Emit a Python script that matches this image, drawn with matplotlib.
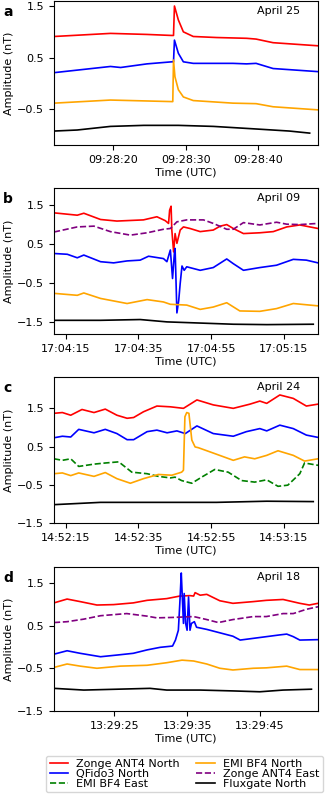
import matplotlib
matplotlib.use("Agg")
import matplotlib.pyplot as plt
from matplotlib.lines import Line2D

# time in seconds after the full minute, amplitude in nT

# panel a - April 25, 09:28
a_red_t = [11.8, 19.6, 24.6, 28.07, 28.3, 28.43, 28.97, 29.66, 31.03, 34.26, 38.4, 39.7, 42.05, 48.25]
a_red_v = [0.91, 0.97, 0.95, 0.93, 0.93, 1.50, 1.23, 1.00, 0.91, 0.89, 0.875, 0.86, 0.79, 0.73]
a_blue_t = [11.8, 19.6, 21.0, 24.63, 28.07, 28.3, 28.43, 28.97, 29.66, 31.03, 36.5, 38.4, 39.7, 42.05, 48.25]
a_blue_v = [0.21, 0.33, 0.31, 0.38, 0.42, 0.42, 0.84, 0.585, 0.42, 0.39, 0.39, 0.38, 0.39, 0.29, 0.23]
a_orange_t = [11.8, 19.6, 28.07, 28.2, 28.3, 28.5, 28.97, 29.66, 31.03, 36.5, 39.7, 42.05, 48.25]
a_orange_v = [-0.38, -0.32, -0.35, -0.35, 0.455, 0.13, -0.12, -0.26, -0.33, -0.38, -0.39, -0.45, -0.51]
a_black_t = [11.8, 15.0, 19.6, 24.2, 28.97, 33.8, 39.7, 44.3, 47.1]
a_black_v = [-0.92, -0.90, -0.83, -0.81, -0.81, -0.83, -0.88, -0.92, -0.96]

# panel b - April 09, 17:04
b_red_t = [11.8, 18.2, 20.0, 24.6, 29.1, 36.4, 40.1, 42.4, 43.3, 43.6, 44.0, 44.2, 44.7, 45.1, 45.6,
           46.5, 47.4, 49.2, 52.0, 55.6, 57.5, 59.3, 61.1, 63.9, 68.4, 72.1, 75.8, 79.4, 84.4]
b_red_v = [1.30, 1.24, 1.29, 1.13, 1.09, 1.12, 1.20, 1.10, 1.03, 1.37, 1.47, 0.86, 0.30, 0.77, 0.52,
           0.86, 0.94, 0.90, 0.82, 0.86, 0.96, 1.00, 0.90, 0.77, 0.79, 0.82, 0.94, 0.99, 0.90]
b_purple_t = [11.8, 18.2, 22.8, 27.3, 32.8, 37.4, 41.9, 43.8, 45.6, 48.3, 52.9, 55.6, 59.3, 61.1,
              63.9, 68.4, 73.0, 75.8, 79.4, 84.4]
b_purple_v = [0.81, 0.94, 0.96, 0.82, 0.73, 0.79, 0.88, 0.90, 1.07, 1.12, 1.12, 1.03, 0.88, 0.88,
              1.05, 0.99, 1.06, 1.01, 1.00, 1.03]
b_blue_t = [11.8, 15.46, 18.2, 20.0, 24.6, 28.2, 31.9, 35.5, 37.8, 41.9, 42.85, 43.8, 44.4, 44.9,
            45.1, 45.6, 46.1, 46.5, 47.0, 47.6, 48.3, 52.0, 55.6, 59.3, 61.1, 63.9, 68.4, 73.0,
            77.6, 81.2, 84.4]
b_blue_v = [0.26, 0.24, 0.15, 0.22, 0.05, 0.02, 0.07, 0.09, 0.19, 0.13, 0.05, 0.35, -0.38, 0.26,
            0.39, -1.26, -0.94, -0.51, -0.06, -0.17, -0.08, -0.17, -0.10, 0.12, 0.00, -0.17, -0.10,
            -0.04, 0.11, 0.09, 0.02]
b_orange_t = [11.8, 18.2, 20.0, 24.6, 31.9, 37.4, 41.9, 43.8, 48.3, 52.0, 55.6, 59.3, 62.9, 68.4,
              73.0, 77.6, 84.4]
b_orange_v = [-0.76, -0.81, -0.75, -0.89, -1.02, -0.92, -0.98, -1.04, -1.06, -1.17, -1.11, -1.00,
              -1.21, -1.22, -1.15, -1.02, -1.08]
b_black_t = [11.8, 24.6, 35.5, 42.85, 52.0, 61.1, 70.3, 83.1]
b_black_v = [-1.45, -1.45, -1.43, -1.49, -1.52, -1.55, -1.56, -1.55]

# panel c - April 24, 14:52
c_red_t = [11.8, 14.1, 16.4, 19.5, 22.8, 25.9, 29.1, 31.9, 33.7, 36.4, 40.1, 43.8, 47.4, 51.1,
           55.6, 61.1, 65.7, 68.4, 70.3, 73.9, 77.6, 81.2, 84.4]
c_red_v = [1.37, 1.39, 1.32, 1.47, 1.39, 1.48, 1.32, 1.24, 1.26, 1.41, 1.56, 1.54, 1.50, 1.72,
           1.59, 1.50, 1.61, 1.69, 1.63, 1.85, 1.76, 1.56, 1.61]
c_blue_t = [11.8, 14.1, 16.4, 18.6, 22.8, 25.9, 29.1, 31.9, 33.7, 37.4, 40.1, 42.9, 45.6, 47.9,
            51.1, 55.6, 61.1, 64.7, 68.4, 70.3, 73.9, 77.6, 81.2, 84.4]
c_blue_v = [0.73, 0.77, 0.75, 0.95, 0.86, 0.95, 0.84, 0.68, 0.68, 0.89, 0.93, 0.86, 0.91, 0.84,
            1.04, 0.84, 0.77, 0.89, 0.97, 0.91, 1.06, 0.97, 0.80, 0.74]
c_green_t = [11.8, 14.1, 16.4, 18.6, 22.8, 25.9, 29.6, 33.2, 37.4, 40.5, 43.8, 45.1, 46.9, 49.7,
             52.4, 56.0, 59.7, 63.4, 67.0, 70.3, 73.4, 76.1, 79.4, 80.7, 84.4]
c_green_v = [0.18, 0.14, 0.18, -0.02, 0.04, 0.07, 0.10, -0.17, -0.21, -0.28, -0.32, -0.30, -0.39,
             -0.46, -0.30, -0.10, -0.17, -0.39, -0.43, -0.37, -0.54, -0.51, -0.21, 0.07, 0.01]
c_orange_t = [11.8, 14.1, 16.4, 18.6, 22.8, 25.9, 29.1, 32.8, 36.4, 40.5, 44.2, 46.9, 47.4, 47.8,
              48.3, 48.9, 49.7, 50.6, 51.5, 55.6, 61.1, 64.2, 67.0, 70.3, 73.4, 77.6, 80.7, 84.4]
c_orange_v = [-0.21, -0.19, -0.26, -0.19, -0.28, -0.18, -0.34, -0.46, -0.34, -0.23, -0.25, -0.17,
              -0.12, 1.28, 1.39, 1.37, 0.67, 0.49, 0.47, 0.33, 0.14, 0.23, 0.18, 0.27, 0.39, 0.27,
              0.12, 0.18]
c_black_t = [11.8, 24.6, 42.85, 56.5, 70.3, 83.1]
c_black_v = [-1.02, -0.96, -0.96, -0.96, -0.93, -0.94]

# panel d - April 18, 13:29
d_red_t = [16.7, 18.5, 20.3, 22.6, 24.9, 27.6, 29.5, 32.2, 34.0, 35.4, 35.9, 36.1, 36.8, 37.7,
           39.5, 41.3, 44.1, 45.9, 48.2, 50.5, 51.8, 53.0]
d_red_v = [1.03, 1.12, 1.06, 0.98, 0.99, 1.03, 1.09, 1.13, 1.19, 1.20, 1.19, 1.27, 1.21, 1.23,
           1.08, 1.02, 1.06, 1.09, 1.11, 1.02, 0.98, 1.02]
d_purple_t = [16.7, 18.5, 20.8, 23.1, 26.7, 29.5, 30.8, 33.1, 35.9, 37.7, 39.3, 41.3, 44.1, 45.9,
              48.2, 49.6, 51.4, 53.0]
d_purple_v = [0.57, 0.59, 0.65, 0.73, 0.78, 0.72, 0.68, 0.69, 0.71, 0.64, 0.57, 0.64, 0.71, 0.71,
              0.78, 0.78, 0.88, 0.94]
d_blue_t = [16.7, 18.5, 20.3, 23.1, 25.4, 27.6, 29.5, 31.3, 33.0, 33.4, 33.8, 34.0, 34.2, 34.3,
            34.5, 34.6, 34.8, 35.0, 35.2, 35.4, 35.6, 36.0, 36.3, 37.7, 39.5, 41.3, 42.3, 44.1,
            45.9, 47.7, 48.7, 49.6, 50.5, 53.0]
d_blue_v = [-0.17, -0.09, -0.15, -0.23, -0.19, -0.15, -0.07, -0.01, 0.02, 0.16, 0.39, 1.02, 1.73,
            1.33, 0.55, 1.25, 0.55, 0.39, 1.17, 0.39, 0.55, 0.59, 0.46, 0.41, 0.33, 0.25, 0.16,
            0.20, 0.24, 0.28, 0.30, 0.24, 0.16, 0.17]
d_orange_t = [16.7, 18.5, 20.3, 22.6, 25.8, 29.5, 32.2, 34.3, 35.9, 37.7, 39.5, 41.3, 44.1, 45.9,
              48.7, 50.5, 53.0]
d_orange_v = [-0.48, -0.40, -0.45, -0.50, -0.45, -0.43, -0.37, -0.31, -0.33, -0.40, -0.50, -0.54,
              -0.50, -0.49, -0.45, -0.53, -0.53]
d_black_t = [16.7, 20.8, 25.4, 29.9, 32.2, 36.8, 41.3, 45.0, 48.2, 52.1]
d_black_v = [-0.97, -1.01, -0.99, -0.97, -1.01, -1.01, -1.03, -1.05, -1.01, -0.99]

panel_letters = ["a", "b", "c", "d"]
dates = ["April 25", "April 09", "April 24", "April 18"]
xticks = [[20, 30, 40], [15, 35, 55, 75], [15, 35, 55, 75], [25, 35, 45]]
xticklabels = [["09:28:20", "09:28:30", "09:28:40"],
               ["17:04:15", "17:04:35", "17:04:55", "17:05:15"],
               ["14:52:15", "14:52:35", "14:52:55", "14:53:15"],
               ["13:29:25", "13:29:35", "13:29:45"]]
yticks = [-1.5, -0.5, 0.5, 1.5]

fig = plt.figure(figsize=(3.26, 7.98), dpi=100)

# axes boxes measured in pixels: top, bottom
boxes = [(1, 145), (188, 334), (377, 523), (567, 711)]
xlims = [(11.8, 48.25), (11.8, 84.4), (11.8, 84.4), (16.7, 53.0)]
ylims = [(-1.19, 1.597), (-1.80, 1.936), (-1.5, 2.32), (-1.5, 1.87)]

lw = 1.2
axes = []
for i, (top, bot) in enumerate(boxes):
    ax = fig.add_axes([54 / 326, 1 - bot / 798, 264 / 326, (bot - top) / 798])
    axes.append(ax)

ax = axes[0]
ax.plot(a_red_t, a_red_v, color="red", lw=lw)
ax.plot(a_blue_t, a_blue_v, color="blue", lw=lw)
ax.plot(a_orange_t, a_orange_v, color="orange", lw=lw)
ax.plot(a_black_t, a_black_v, color="black", lw=lw)

ax = axes[1]
ax.plot(b_red_t, b_red_v, color="red", lw=lw)
ax.plot(b_blue_t, b_blue_v, color="blue", lw=lw)
ax.plot(b_orange_t, b_orange_v, color="orange", lw=lw)
ax.plot(b_purple_t, b_purple_v, color="purple", lw=lw, ls="--")
ax.plot(b_black_t, b_black_v, color="black", lw=lw)

ax = axes[2]
ax.plot(c_red_t, c_red_v, color="red", lw=lw)
ax.plot(c_blue_t, c_blue_v, color="blue", lw=lw)
ax.plot(c_green_t, c_green_v, color="green", lw=lw, ls="--")
ax.plot(c_orange_t, c_orange_v, color="orange", lw=lw)
ax.plot(c_black_t, c_black_v, color="black", lw=lw)

ax = axes[3]
ax.plot(d_red_t, d_red_v, color="red", lw=lw)
ax.plot(d_blue_t, d_blue_v, color="blue", lw=lw)
ax.plot(d_orange_t, d_orange_v, color="orange", lw=lw)
ax.plot(d_purple_t, d_purple_v, color="purple", lw=lw, ls="--")
ax.plot(d_black_t, d_black_v, color="black", lw=lw)

for i, ax in enumerate(axes):
    ax.set_yticks(yticks)
    ax.set_xticks(xticks[i])
    ax.set_xticklabels(xticklabels[i])
    # limits after the ticks, otherwise set_yticks widens the view
    ax.set_xlim(*xlims[i])
    ax.set_ylim(*ylims[i])
    ax.tick_params(labelsize=8)
    ax.set_xlabel("Time (UTC)", fontsize=8, labelpad=2)
    ax.set_ylabel("Amplitude (nT)", fontsize=8, labelpad=2)
    ax.text(0.85, 0.93, dates[i], transform=ax.transAxes, ha="center", va="center", fontsize=8)
    top = boxes[i][0]
    fig.text(8 / 326, 1 - (top + 11) / 798, panel_letters[i], fontsize=10,
             fontweight="bold", ha="center", va="center")

# legend handles in the same order as the reference (column-wise)
handles = [
    Line2D([], [], color="red", lw=lw),
    Line2D([], [], color="blue", lw=lw),
    Line2D([], [], color="green", lw=lw, ls="--"),
    Line2D([], [], color="orange", lw=lw),
    Line2D([], [], color="purple", lw=lw, ls="--"),
    Line2D([], [], color="black", lw=lw),
]
labels = ["Zonge ANT4 North", "QFido3 North", "EMI BF4 East",
          "EMI BF4 North", "Zonge ANT4 East", "Fluxgate North"]
fig.legend(handles, labels, ncol=2, fontsize=8, loc="lower center",
           bbox_to_anchor=(184.5 / 326, 0.0), labelspacing=0.0,
           columnspacing=1.5, handlelength=1.7, borderpad=0.3, handletextpad=0.7)

fig.savefig("out.png", dpi=100)
